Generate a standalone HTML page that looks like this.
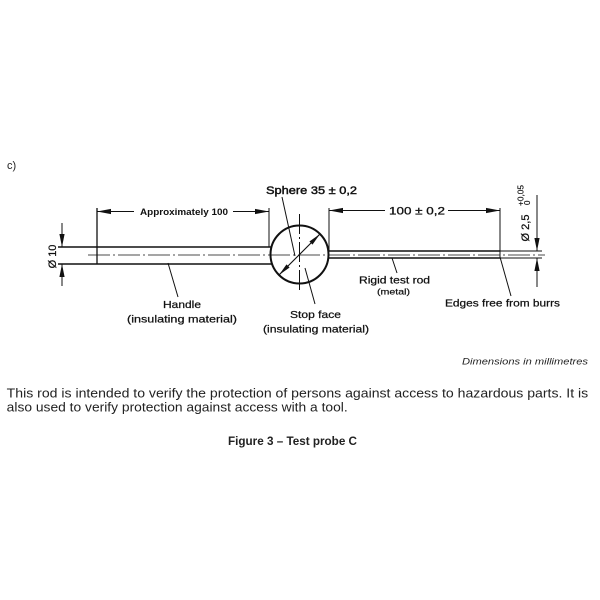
<!DOCTYPE html>
<html>
<head>
<meta charset="utf-8">
<style>
html,body{margin:0;padding:0;background:#fff;}
svg{display:block;}
text{font-family:"Liberation Sans",Arial,sans-serif;}
</style>
</head>
<body>
<svg width="600" height="600" viewBox="0 0 600 600" xmlns="http://www.w3.org/2000/svg">
<rect width="600" height="600" fill="#fff"/>

<!-- c) -->
<text x="7" y="169" font-size="11" fill="#222">c)</text>

<g stroke="#111" fill="none" stroke-linecap="butt">
  <!-- handle -->
  <line x1="58" y1="247" x2="272" y2="247" stroke-width="1.6"/>
  <line x1="58" y1="264" x2="272" y2="264" stroke-width="1.6"/>
  <line x1="97" y1="208" x2="97" y2="264" stroke-width="1.3"/>
  <!-- extension lines -->
  <line x1="269" y1="208" x2="269" y2="247" stroke-width="1"/>
  <line x1="329" y1="208" x2="329" y2="251" stroke-width="1"/>
  <line x1="500" y1="208" x2="500" y2="258" stroke-width="1"/>
  <!-- rod -->
  <line x1="328" y1="251" x2="500" y2="251" stroke-width="1.6"/>
  <line x1="328" y1="258" x2="500" y2="258" stroke-width="1.6"/>
  <line x1="500" y1="251" x2="542" y2="251" stroke-width="1"/>
  <line x1="500" y1="258" x2="542" y2="258" stroke-width="1"/>
  <!-- center lines -->
  <line x1="88" y1="255" x2="545" y2="255" stroke-width="0.8" stroke-dasharray="22,3,2,3"/>
  <line x1="299.5" y1="214" x2="299.5" y2="292" stroke-width="1" stroke-dasharray="20,3,2,3"/>
  <!-- sphere -->
  <circle cx="299.5" cy="254.5" r="29" stroke-width="2"/>
  <line x1="279" y1="275" x2="320" y2="234" stroke-width="1.1"/>
  <!-- dim lines -->
  <line x1="97" y1="211.5" x2="134" y2="211.5" stroke-width="1"/>
  <line x1="233" y1="211.5" x2="269" y2="211.5" stroke-width="1"/>
  <line x1="329" y1="210.5" x2="385" y2="210.5" stroke-width="1"/>
  <line x1="448" y1="210.5" x2="500" y2="210.5" stroke-width="1"/>
  <line x1="62" y1="223" x2="62" y2="247" stroke-width="1"/>
  <line x1="62" y1="264" x2="62" y2="286" stroke-width="1"/>
  <line x1="537" y1="195" x2="537" y2="251" stroke-width="1"/>
  <line x1="537" y1="258" x2="537" y2="287" stroke-width="1"/>
  <!-- leaders -->
  <line x1="282" y1="197" x2="295" y2="256" stroke-width="1"/>
  <line x1="168" y1="263" x2="178" y2="297" stroke-width="1"/>
  <line x1="305" y1="268" x2="315" y2="304" stroke-width="1"/>
  <line x1="392" y1="258" x2="397" y2="273" stroke-width="1"/>
  <line x1="500" y1="257" x2="511" y2="296" stroke-width="1"/>
</g>

<!-- arrowheads -->
<g fill="#111" stroke="none">
  <polygon points="97,211.5 111,208.9 111,214.1"/>
  <polygon points="269,211.5 255,208.9 255,214.1"/>
  <polygon points="329,210.5 343,207.9 343,213.1"/>
  <polygon points="500,210.5 486,207.9 486,213.1"/>
  <polygon points="62,247 59.4,234 64.6,234"/>
  <polygon points="62,264 59.4,277 64.6,277"/>
  <polygon points="537,251 534.4,238 539.6,238"/>
  <polygon points="537,258 534.4,271 539.6,271"/>
  <polygon points="320,234 312.5,244.6 309.4,241.5"/>
  <polygon points="279,275 289.6,267.5 286.5,264.4"/>
</g>

<!-- drawing labels -->
<g fill="#111">
  <text x="140" y="215" font-size="9.5" font-weight="bold" textLength="88" lengthAdjust="spacingAndGlyphs">Approximately 100</text>
  <text x="266" y="194" font-size="11" textLength="91" lengthAdjust="spacingAndGlyphs" stroke="#111" stroke-width="0.45">Sphere 35 ± 0,2</text>
  <text x="389" y="214.5" font-size="11" textLength="56" lengthAdjust="spacingAndGlyphs" stroke="#111" stroke-width="0.3">100 ± 0,2</text>
  <text x="163" y="308" font-size="10.5" textLength="38" lengthAdjust="spacingAndGlyphs" stroke="#111" stroke-width="0.25">Handle</text>
  <text x="127" y="322.7" font-size="10.5" textLength="110" lengthAdjust="spacingAndGlyphs" stroke="#111" stroke-width="0.25">(insulating material)</text>
  <text x="290" y="318" font-size="10.5" textLength="51" lengthAdjust="spacingAndGlyphs" stroke="#111" stroke-width="0.25">Stop face</text>
  <text x="263" y="332.7" font-size="10.5" textLength="106" lengthAdjust="spacingAndGlyphs" stroke="#111" stroke-width="0.25">(insulating material)</text>
  <text x="359" y="283.3" font-size="10.5" textLength="71" lengthAdjust="spacingAndGlyphs" stroke="#111" stroke-width="0.25">Rigid test rod</text>
  <text x="377" y="294.3" font-size="8.5" textLength="33" lengthAdjust="spacingAndGlyphs" stroke="#111" stroke-width="0.2">(metal)</text>
  <text x="445" y="306.7" font-size="10.5" textLength="115" lengthAdjust="spacingAndGlyphs" stroke="#111" stroke-width="0.25">Edges free from burrs</text>
  <!-- rotated dimension labels -->
  <text transform="translate(56,256.5) rotate(-90)" font-size="11" text-anchor="middle" stroke="#111" stroke-width="0.25">Ø 10</text>
  <text transform="translate(529,228) rotate(-90)" font-size="11" text-anchor="middle" stroke="#111" stroke-width="0.25">Ø 2,5</text>
  <text transform="translate(523.5,206) rotate(-90)" font-size="8" textLength="21" lengthAdjust="spacingAndGlyphs" stroke="#111" stroke-width="0.15">+0,05</text>
  <text transform="translate(530,205) rotate(-90)" font-size="8" stroke="#111" stroke-width="0.15">0</text>
</g>

<text x="462" y="364.5" font-size="9.5" font-style="italic" fill="#222" textLength="126" lengthAdjust="spacingAndGlyphs">Dimensions in millimetres</text>

<text x="6.7" y="397.7" font-size="13" fill="#222" textLength="581.5" lengthAdjust="spacingAndGlyphs">This rod is intended to verify the protection of persons against access to hazardous parts. It is</text>
<text x="6.7" y="411.7" font-size="13" fill="#222" textLength="341" lengthAdjust="spacingAndGlyphs">also used to verify protection against access with a tool.</text>

<text x="228" y="445" font-size="12" font-weight="bold" fill="#222" textLength="129" lengthAdjust="spacingAndGlyphs">Figure 3 – Test probe C</text>
</svg>
</body>
</html>
